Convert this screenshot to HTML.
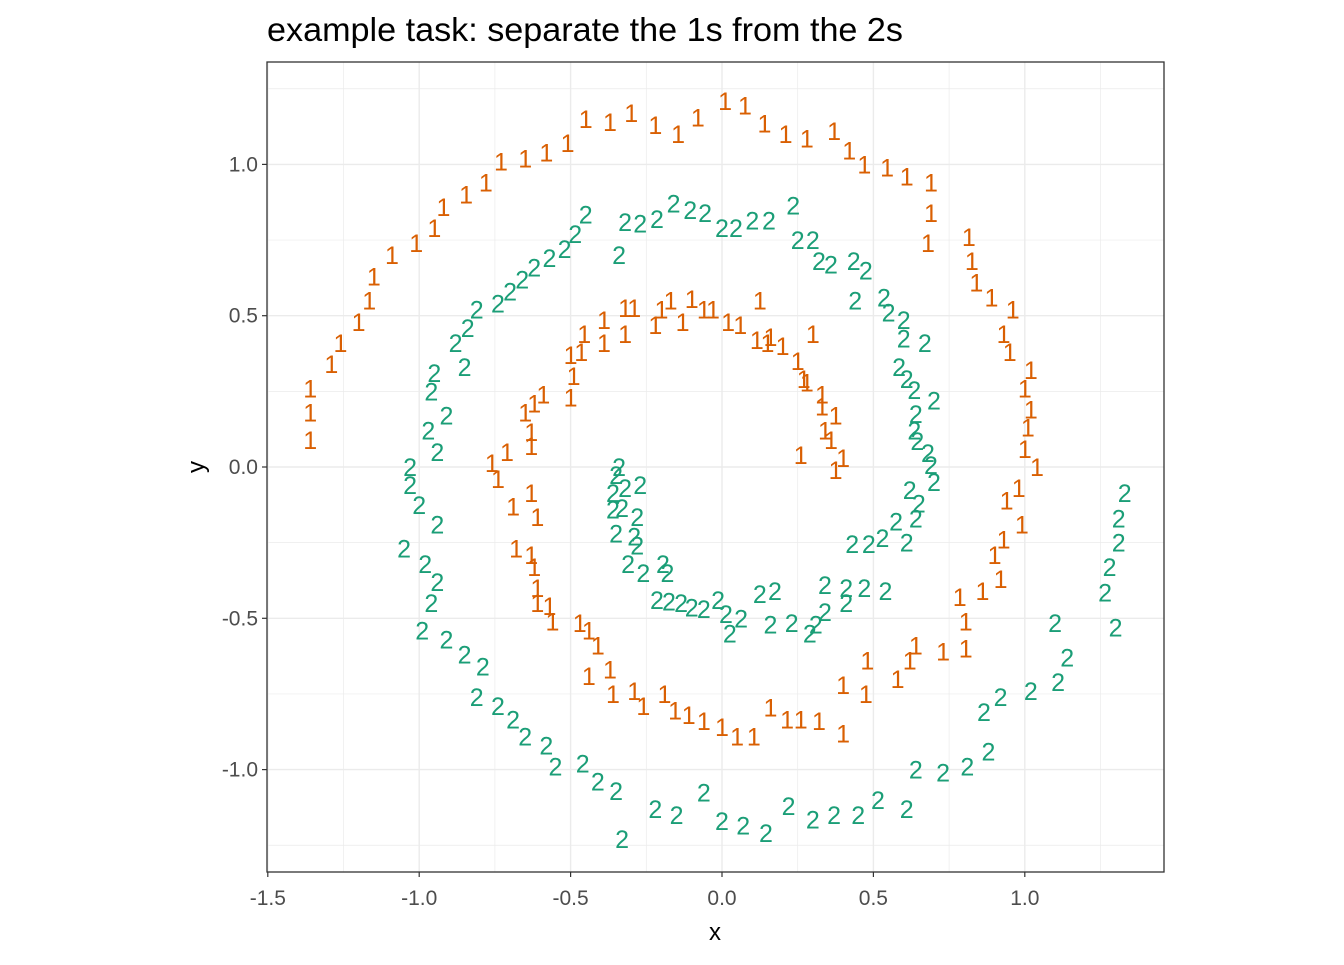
<!DOCTYPE html>
<html><head><meta charset="utf-8"><style>
html,body{margin:0;padding:0;background:#fff}
svg text{font-family:"Liberation Sans",sans-serif}
</style></head><body>
<svg id="chart" width="1344" height="960" viewBox="0 0 1344 960" xmlns="http://www.w3.org/2000/svg">
<rect width="1344" height="960" fill="#fff"/>
<text x="267" y="41" font-size="33" fill="#000" textLength="636" lengthAdjust="spacingAndGlyphs">example task: separate the 1s from the 2s</text>
<g id="grid"></g>
<g id="points"></g>
<rect x="267" y="62" width="897" height="810" fill="none" stroke="#333" stroke-width="1.3"/>
<g id="axes"></g>
<text x="715" y="940" font-size="24" text-anchor="middle" fill="#000">x</text>
<text x="197" y="467" font-size="24" text-anchor="middle" fill="#000" transform="rotate(-90 197 467)" dy="7">y</text>
</svg>
<script>
const xTicks=[-1.5,-1.0,-0.5,0.0,0.5,1.0];
const xTickLabels=["-1.5","-1.0","-0.5","0.0","0.5","1.0"];
const yTicks=[-1.0,-0.5,0.0,0.5,1.0];
const yTickLabels=["-1.0","-0.5","0.0","0.5","1.0"];
const ones=[[-1.36,0.26],[-1.36,0.18],[-1.36,0.09],[-1.29,0.34],[-1.26,0.41],[-1.20,0.48],[-1.165,0.55],[-1.15,0.63],[-1.09,0.70],[-1.01,0.74],[-0.95,0.79],[-0.92,0.86],[-0.845,0.90],[-0.78,0.94],[-0.73,1.01],[-0.65,1.02],[-0.58,1.04],[-0.51,1.07],[-0.45,1.15],[-0.37,1.14],[-0.30,1.17],[-0.22,1.13],[-0.145,1.10],[-0.08,1.155],[0.01,1.21],[0.076,1.195],[0.14,1.135],[0.21,1.10],[0.28,1.085],[0.37,1.11],[0.42,1.046],[0.47,1.00],[0.545,0.99],[0.61,0.96],[0.69,0.94],[0.69,0.84],[0.68,0.74],[0.815,0.76],[0.825,0.68],[0.84,0.61],[0.89,0.56],[0.96,0.52],[0.93,0.44],[0.95,0.38],[1.02,0.32],[1.00,0.26],[1.02,0.19],[1.01,0.13],[1.00,0.06],[1.04,0.00],[0.98,-0.07],[0.94,-0.11],[0.99,-0.19],[0.93,-0.24],[0.90,-0.29],[0.92,-0.37],[0.86,-0.41],[0.785,-0.43],[0.805,-0.51],[0.805,-0.60],[0.73,-0.61],[0.64,-0.59],[0.62,-0.64],[0.58,-0.70],[0.48,-0.64],[0.475,-0.75],[0.40,-0.72],[0.40,-0.88],[0.32,-0.84],[0.26,-0.835],[0.215,-0.835],[0.16,-0.795],[0.105,-0.89],[0.05,-0.89],[0.00,-0.86],[-0.06,-0.84],[-0.11,-0.82],[-0.155,-0.805],[-0.19,-0.75],[-0.26,-0.79],[-0.29,-0.74],[-0.36,-0.75],[-0.37,-0.67],[-0.44,-0.69],[-0.41,-0.59],[-0.44,-0.54],[-0.47,-0.515],[-0.56,-0.51],[-0.57,-0.46],[-0.61,-0.45],[-0.61,-0.40],[-0.62,-0.33],[-0.63,-0.29],[-0.68,-0.27],[-0.61,-0.165],[-0.63,-0.086],[-0.69,-0.13],[-0.74,-0.04],[-0.76,0.013],[-0.71,0.05],[-0.63,0.07],[-0.63,0.115],[-0.65,0.18],[-0.62,0.21],[-0.59,0.24],[-0.50,0.23],[-0.49,0.30],[-0.50,0.37],[-0.455,0.44],[-0.465,0.38],[-0.39,0.41],[-0.39,0.485],[-0.32,0.44],[-0.32,0.525],[-0.29,0.525],[-0.22,0.47],[-0.20,0.52],[-0.17,0.55],[-0.13,0.48],[-0.10,0.555],[-0.06,0.52],[-0.03,0.52],[0.02,0.48],[0.06,0.47],[0.125,0.55],[0.115,0.42],[0.15,0.41],[0.16,0.43],[0.20,0.40],[0.25,0.35],[0.30,0.44],[0.27,0.29],[0.28,0.28],[0.33,0.24],[0.33,0.20],[0.375,0.17],[0.34,0.12],[0.36,0.09],[0.40,0.03],[0.375,-0.01],[0.26,0.04]];
const twos=[[1.33,-0.086],[1.31,-0.17],[1.31,-0.25],[1.28,-0.33],[1.265,-0.415],[1.30,-0.53],[1.10,-0.515],[1.14,-0.63],[1.11,-0.71],[1.02,-0.74],[0.92,-0.76],[0.865,-0.81],[0.88,-0.94],[0.81,-0.99],[0.73,-1.01],[0.64,-1.00],[0.61,-1.13],[0.515,-1.10],[0.45,-1.15],[0.37,-1.15],[0.30,-1.165],[0.22,-1.12],[0.145,-1.21],[0.07,-1.185],[0.00,-1.17],[-0.06,-1.075],[-0.15,-1.15],[-0.22,-1.13],[-0.33,-1.23],[-0.35,-1.07],[-0.41,-1.04],[-0.46,-0.98],[-0.55,-0.99],[-0.58,-0.92],[-0.65,-0.89],[-0.69,-0.835],[-0.74,-0.79],[-0.81,-0.76],[-0.79,-0.66],[-0.85,-0.62],[-0.91,-0.57],[-0.99,-0.54],[-0.96,-0.45],[-0.94,-0.38],[-0.98,-0.32],[-1.05,-0.27],[-0.94,-0.19],[-1.00,-0.125],[-1.03,-0.06],[-1.03,0.00],[-0.94,0.05],[-0.97,0.12],[-0.91,0.17],[-0.96,0.25],[-0.95,0.31],[-0.85,0.33],[-0.88,0.41],[-0.84,0.46],[-0.81,0.52],[-0.74,0.54],[-0.70,0.58],[-0.66,0.62],[-0.62,0.66],[-0.57,0.69],[-0.52,0.72],[-0.485,0.77],[-0.45,0.835],[-0.34,0.70],[-0.32,0.81],[-0.27,0.805],[-0.215,0.82],[-0.16,0.87],[-0.105,0.85],[-0.056,0.84],[0.00,0.79],[0.046,0.79],[0.10,0.815],[0.155,0.815],[0.235,0.865],[0.25,0.75],[0.30,0.75],[0.32,0.68],[0.36,0.67],[0.435,0.68],[0.475,0.65],[0.44,0.55],[0.535,0.56],[0.55,0.51],[0.60,0.485],[0.60,0.425],[0.67,0.41],[0.585,0.33],[0.61,0.29],[0.635,0.255],[0.70,0.22],[0.64,0.175],[0.635,0.12],[0.645,0.086],[0.68,0.046],[0.69,0.007],[0.70,-0.05],[0.62,-0.076],[0.65,-0.12],[0.64,-0.17],[0.575,-0.18],[0.53,-0.235],[0.485,-0.255],[0.43,-0.255],[0.61,-0.25],[0.54,-0.41],[0.47,-0.40],[0.41,-0.40],[0.34,-0.39],[0.41,-0.45],[0.34,-0.48],[0.31,-0.52],[0.29,-0.55],[0.23,-0.515],[0.16,-0.52],[0.175,-0.41],[0.125,-0.42],[0.063,-0.50],[0.026,-0.55],[0.013,-0.485],[-0.013,-0.44],[-0.06,-0.47],[-0.10,-0.465],[-0.135,-0.45],[-0.175,-0.445],[-0.215,-0.44],[-0.18,-0.35],[-0.195,-0.32],[-0.26,-0.35],[-0.31,-0.32],[-0.28,-0.26],[-0.29,-0.23],[-0.35,-0.22],[-0.36,-0.14],[-0.33,-0.135],[-0.28,-0.165],[-0.27,-0.06],[-0.32,-0.07],[-0.34,0.00],[-0.35,-0.026],[-0.36,-0.086]];

const NS="http://www.w3.org/2000/svg";
const L=267,R=1164,T=62,B=872;
function sx(v){return 722+v*302.8;}
function sy(v){return 467-v*302.6;}
function mk(tag,attrs,parent){const e=document.createElementNS(NS,tag);for(const k in attrs)e.setAttribute(k,attrs[k]);parent.appendChild(e);return e;}
const grid=document.getElementById('grid'),axes=document.getElementById('axes'),pts=document.getElementById('points');
for(let v=-1.5;v<=1.5;v+=0.25){const x=sx(v);if(x<L||x>R)continue;const major=Math.abs(v*2-Math.round(v*2))<1e-6;
 const ln=mk('line',{x1:x,x2:x,y1:T,y2:B,stroke:'#ebebeb','stroke-width':major?1.4:0.7},grid);
 
 }
for(let v=-1.25;v<=1.25;v+=0.25){const y=sy(v);if(y<T||y>B)continue;const major=Math.abs(v*2-Math.round(v*2))<1e-6;
 const ln=mk('line',{x1:L,x2:R,y1:y,y2:y,stroke:'#ebebeb','stroke-width':major?1.4:0.7},grid);
 
 }
xTicks.forEach((v,i)=>{const x=sx(v);
 const t=mk('line',{x1:x,x2:x,y1:B,y2:B+5,stroke:'#333','stroke-width':1.2},axes);
 
 
 const lb=mk('text',{x:x,y:B+33,'font-size':21,'text-anchor':'middle',fill:'#4d4d4d'},axes);lb.textContent=xTickLabels[i];
 
 });
yTicks.forEach((v,i)=>{const y=sy(v);
 const t=mk('line',{x1:L-5,x2:L,y1:y,y2:y,stroke:'#333','stroke-width':1.2},axes);
 
 
 const lb=mk('text',{x:L-9,y:y+7,'font-size':21,'text-anchor':'end',fill:'#4d4d4d'},axes);lb.textContent=yTickLabels[i];
 
 });
function draw(arr,label,color,name){arr.forEach(p=>{
 const t=mk('text',{x:sx(p[0]),y:sy(p[1])+9,'font-size':25,'text-anchor':'middle',fill:color},pts);t.textContent=label;
 
 });}
draw(ones,'1','#D95F02','point-class-1');
draw(twos,'2','#1B9E77','point-class-2');
</script>
</body></html>
